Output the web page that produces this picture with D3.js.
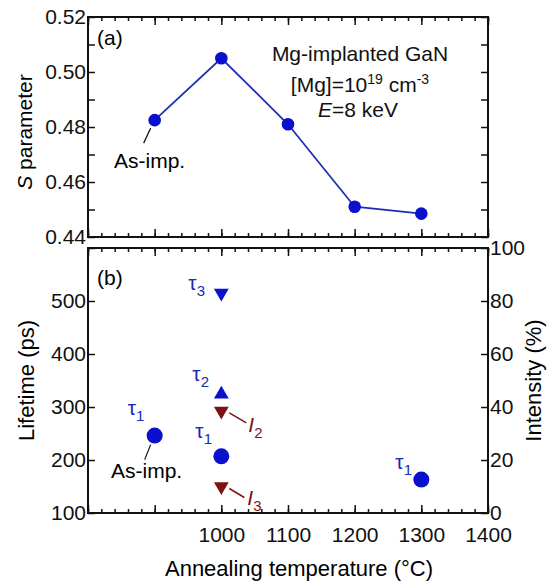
<!DOCTYPE html>
<html><head><meta charset="utf-8">
<script src="https://cdn.jsdelivr.net/npm/d3@7"></script>
<style>
body{margin:0;background:#fff;}
text{font-family:"Liberation Sans",Arial,sans-serif;}
</style></head>
<body><svg id="c" width="555" height="585"></svg>
<script>
// ---- data ----
const sTemps = [900, 1000, 1100, 1200, 1300];
const sValues = [0.4825, 0.505, 0.481, 0.451, 0.4485];
const tau1Temps = [900, 1000, 1300];
const tau1Values = [246, 207, 163];
const tau2Temps = [1000];
const tau2Values = [324];
const tau3Temps = [1000];
const tau3Values = [515];
const i2Temps = [1000];
const i2Values = [38.5];
const i3Temps = [1000];
const i3Values = [10];
const xTickLabels = [1000, 1100, 1200, 1300, 1400];
const sTickLabels = [0.44, 0.46, 0.48, 0.50, 0.52];
const lifeTickLabels = [100, 200, 300, 400, 500];
const intTickLabels = [0, 20, 40, 60, 80, 100];

const svg = d3.select("#c");
const L = 88, R = 488;
const topA = 17, botA = 237, topB = 248, botB = 513;
const blue = "#0a10cc", lineBlue = "#1f2fb0", dred = "#7e1212", txtBlue = "#1a2ab8";
const FS = 21, FT = 22;

const x = d3.scaleLinear().domain([800, 1400]).range([L, R]);
const yS = d3.scaleLinear().domain([0.44, 0.52]).range([botA, topA]);
const yL = d3.scaleLinear().domain([100, 600]).range([botB, topB]);
const yI = d3.scaleLinear().domain([0, 100]).range([botB, topB]);

const xMinor = d3.range(800, 1401, 20);
const xMajor = d3.range(800, 1401, 100);

function styleAxis(g){
  g.select(".domain").remove();
  g.selectAll("line").attr("stroke","#111").attr("stroke-width",1.5);
  g.selectAll("text").attr("font-size",FS).attr("fill","#111").attr("font-family","Liberation Sans, Arial, sans-serif");
}
function xTicks(yTop, yBot, labels){
  svg.append("g").attr("transform",`translate(0,${yBot})`)
    .call(d3.axisBottom(x).tickValues(xMinor).tickSize(-4).tickFormat("")).call(styleAxis);
  svg.append("g").attr("transform",`translate(0,${yTop})`)
    .call(d3.axisTop(x).tickValues(xMinor).tickSize(-4).tickFormat("")).call(styleAxis);
  svg.append("g").attr("transform",`translate(0,${yTop})`)
    .call(d3.axisTop(x).tickValues(xMajor).tickSize(-8).tickFormat("")).call(styleAxis);
  svg.append("g").attr("transform",`translate(0,${yBot})`)
    .call(d3.axisBottom(x).tickValues(xMajor).tickSize(-8)
      .tickFormat(d => labels && labels.includes(d) ? d : "").tickPadding(14)).call(styleAxis);
}

// ---------- Panel (a) ----------
xTicks(topA, botA, null);
svg.append("g").attr("transform",`translate(${L},0)`)
  .call(d3.axisLeft(yS).tickValues(d3.range(0.44,0.5201,0.01)).tickSize(-7)
    .tickFormat(d => sTickLabels.some(v=>Math.abs(v-d)<1e-6) ? d3.format(".2f")(d) : "").tickPadding(2))
  .call(styleAxis);
svg.append("g").attr("transform",`translate(${R},0)`)
  .call(d3.axisRight(yS).tickValues(d3.range(0.44,0.5201,0.01)).tickSize(-7).tickFormat(""))
  .call(styleAxis);
svg.append("rect").attr("x",L).attr("y",topA).attr("width",R-L).attr("height",botA-topA)
  .attr("fill","none").attr("stroke","#111").attr("stroke-width",2);

const sData = sTemps.map((t,i)=>({t, v:sValues[i]}));
svg.append("path").datum(sData)
  .attr("d", d3.line().x(d=>x(d.t)).y(d=>yS(d.v)))
  .attr("fill","none").attr("stroke",lineBlue).attr("stroke-width",1.8);
svg.selectAll("circle.s").data(sData).join("circle").attr("class","s")
  .attr("cx",d=>x(d.t)).attr("cy",d=>yS(d.v)).attr("r",6.3).attr("fill",blue);

svg.append("text").attr("x",97).attr("y",45).attr("font-size",FS).text("(a)");
svg.append("line").attr("x1",x(900)-11).attr("y1",yS(sValues[0])+23)
  .attr("x2",x(900)-4).attr("y2",yS(sValues[0])+8).attr("stroke","#111").attr("stroke-width",1.2);
svg.append("text").attr("x",114).attr("y",168).attr("font-size",FS).text("As-imp.");

const ann = svg.append("g").attr("font-size",FS).attr("text-anchor","middle").attr("fill","#111");
ann.append("text").attr("x",360).attr("y",61).text("Mg-implanted GaN");
const t2 = ann.append("text").attr("x",360).attr("y",92);
t2.append("tspan").text("[Mg]=10");
t2.append("tspan").attr("font-size",14).attr("dy",-8).text("19");
t2.append("tspan").attr("dy",8).text(" cm");
t2.append("tspan").attr("font-size",14).attr("dy",-8).text("-3");
const t3 = ann.append("text").attr("x",358).attr("y",117);
t3.append("tspan").attr("font-style","italic").text("E");
t3.append("tspan").text("=8 keV");

const ylA = svg.append("text").attr("transform",`translate(32,${(topA+botA)/2+5}) rotate(-90)`)
  .attr("text-anchor","middle").attr("font-size",FT-1);
ylA.append("tspan").attr("font-style","italic").text("S");
ylA.append("tspan").text(" parameter");

// ---------- Panel (b) ----------
xTicks(topB, botB, xTickLabels);
svg.append("g").attr("transform",`translate(${L},0)`)
  .call(d3.axisLeft(yL).tickValues(d3.range(100,601,100)).tickSize(-7)
    .tickFormat(d => lifeTickLabels.includes(d) ? d : "").tickPadding(2))
  .call(styleAxis);
svg.append("g").attr("transform",`translate(${R},0)`)
  .call(d3.axisRight(yI).tickValues(d3.range(0,101,20)).tickSize(-7)
    .tickFormat(d => intTickLabels.includes(d) ? d : "").tickPadding(2))
  .call(styleAxis);
svg.append("rect").attr("x",L).attr("y",topB).attr("width",R-L).attr("height",botB-topB)
  .attr("fill","none").attr("stroke","#111").attr("stroke-width",2);

svg.append("text").attr("x",97).attr("y",285).attr("font-size",FS).text("(b)");

svg.selectAll("circle.t1").data(tau1Temps.map((t,i)=>({t,v:tau1Values[i]}))).join("circle")
  .attr("class","t1").attr("cx",d=>x(d.t)).attr("cy",d=>yL(d.v)).attr("r",8).attr("fill",blue);
const tri = d3.symbol().type(d3.symbolTriangle).size(95);
svg.selectAll("path.t2").data(tau2Temps.map((t,i)=>({t,v:tau2Values[i]}))).join("path")
  .attr("class","t2").attr("d",tri).attr("fill",blue)
  .attr("transform",d=>`translate(${x(d.t)},${yL(d.v)})`);
svg.selectAll("path.t3").data(tau3Temps.map((t,i)=>({t,v:tau3Values[i]}))).join("path")
  .attr("class","t3").attr("d",tri).attr("fill",blue)
  .attr("transform",d=>`translate(${x(d.t)},${yL(d.v)}) rotate(180)`);
svg.selectAll("path.i2").data(i2Temps.map((t,i)=>({t,v:i2Values[i]}))).join("path")
  .attr("class","i2").attr("d",tri).attr("fill",dred)
  .attr("transform",d=>`translate(${x(d.t)},${yI(d.v)}) rotate(180)`);
svg.selectAll("path.i3").data(i3Temps.map((t,i)=>({t,v:i3Values[i]}))).join("path")
  .attr("class","i3").attr("d",tri).attr("fill",dred)
  .attr("transform",d=>`translate(${x(d.t)},${yI(d.v)}) rotate(180)`);

function tauLabel(xp, yp, sub, color){
  const t = svg.append("text").attr("x",xp).attr("y",yp).attr("fill",color).attr("font-size",FS);
  t.append("tspan").text("τ");
  t.append("tspan").attr("font-size",15).attr("dy",6).text(sub);
}
tauLabel(x(1000)-33, yL(tau3Values[0])-3, "3", txtBlue);
tauLabel(x(1000)-29, yL(tau2Values[0])-13, "2", txtBlue);
tauLabel(x(900)-27, yL(tau1Values[0])-21, "1", txtBlue);
tauLabel(x(1000)-26, yL(tau1Values[1])-18, "1", txtBlue);
tauLabel(x(1300)-26, yL(tau1Values[2])-11, "1", txtBlue);

svg.append("line").attr("x1",x(900)-10).attr("y1",yL(tau1Values[0])+24)
  .attr("x2",x(900)-4).attr("y2",yL(tau1Values[0])+9).attr("stroke","#111").attr("stroke-width",1.2);
svg.append("text").attr("x",111).attr("y",478).attr("font-size",FS).text("As-imp.");

function iLabel(xp, yp, sub){
  const t = svg.append("text").attr("x",xp).attr("y",yp).attr("fill",dred).attr("font-size",FS);
  t.append("tspan").attr("font-style","italic").text("I");
  t.append("tspan").attr("font-size",15).attr("dy",6).text(sub);
}
svg.append("line").attr("x1",x(1000)+25).attr("y1",yI(i2Values[0])+12)
  .attr("x2",x(1000)+8).attr("y2",yI(i2Values[0])+2).attr("stroke",dred).attr("stroke-width",1.5);
iLabel(x(1000)+27, yI(i2Values[0])+21, "2");
svg.append("line").attr("x1",x(1000)+23).attr("y1",yI(i3Values[0])+11)
  .attr("x2",x(1000)+8).attr("y2",yI(i3Values[0])+2).attr("stroke",dred).attr("stroke-width",1.5);
iLabel(x(1000)+26, yI(i3Values[0])+18, "3");

svg.append("text").attr("transform",`translate(34,${(topB+botB)/2}) rotate(-90)`)
  .attr("text-anchor","middle").attr("font-size",FT).text("Lifetime (ps)");
svg.append("text").attr("transform",`translate(541,${(topB+botB)/2}) rotate(-90)`)
  .attr("text-anchor","middle").attr("font-size",FT).text("Intensity (%)");
svg.append("text").attr("x",299).attr("y",576).attr("text-anchor","middle").attr("font-size",FT)
  .text("Annealing temperature (°C)");
</script></body></html>
